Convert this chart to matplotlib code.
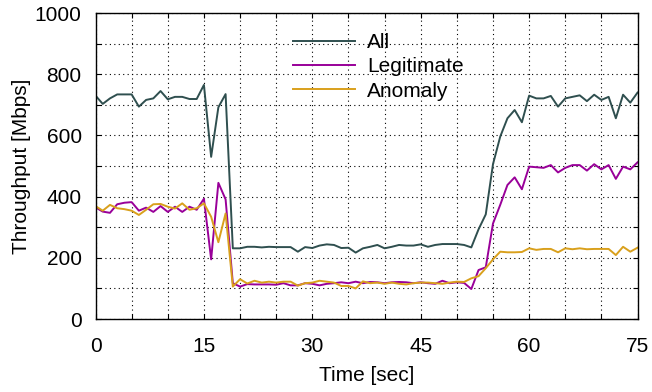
import matplotlib
matplotlib.use("Agg")
import matplotlib.pyplot as plt
from matplotlib.ticker import MultipleLocator

time_sec = list(range(0, 76))
all_mbps = [730, 703, 721, 734, 734, 734, 694, 716, 721, 745, 718, 726, 726, 719, 719,
            765, 530, 692, 735, 231, 231, 236, 236, 234, 236, 235, 235, 235, 220, 235,
            232, 240, 244, 242, 232, 233, 217, 231, 236, 242, 231, 236, 242, 240, 240,
            244, 236, 242, 245, 245, 245, 242, 234, 293, 342, 506, 596, 656, 683, 643,
            730, 721, 721, 729, 694, 721, 726, 731, 712, 733, 716, 726, 656, 733, 707, 740]
legit_mbps = [365, 351, 347, 375, 380, 382, 354, 364, 350, 369, 350, 367, 350, 367, 357,
              393, 195, 445, 391, 117, 106, 114, 113, 113, 113, 112, 117, 110, 110, 117,
              115, 110, 115, 117, 120, 117, 122, 117, 121, 120, 117, 120, 121, 120, 117,
              120, 117, 115, 125, 117, 120, 118, 98, 160, 169, 312, 373, 438, 463, 424,
              498, 496, 494, 503, 479, 494, 503, 503, 485, 506, 489, 503, 458, 498, 489, 512]
anomaly_mbps = [369, 354, 373, 362, 359, 354, 340, 357, 375, 376, 367, 361, 378, 357, 362,
                378, 334, 251, 345, 106, 130, 116, 125, 119, 122, 119, 122, 122, 109, 117,
                119, 125, 122, 119, 108, 108, 100, 123, 117, 119, 115, 119, 115, 113, 117,
                119, 119, 117, 115, 119, 122, 121, 133, 140, 166, 195, 220, 218, 218, 219,
                231, 226, 229, 229, 218, 231, 228, 231, 228, 229, 229, 229, 209, 236, 220, 233]
series_names = ["All", "Legitimate", "Anomaly"]
x_ticks = [0, 15, 30, 45, 60, 75]
y_ticks = [0, 200, 400, 600, 800, 1000]

plt.rcParams['font.family'] = ['Liberation Sans', 'DejaVu Sans']
FS = 15

fig = plt.figure(figsize=(6.52, 3.92), dpi=100)
ax = fig.add_axes([0.1465, 0.1862, 0.8313, 0.7806])

ax.plot(time_sec, all_mbps, color='#2f4f4f', lw=1.4, label=series_names[0])
ax.plot(time_sec, legit_mbps, color='#990099', lw=1.4, label=series_names[1])
ax.plot(time_sec, anomaly_mbps, color='#d9a01c', lw=1.4, label=series_names[2])

ax.set_xlim(0, 75)
ax.set_ylim(0, 1000)
ax.set_xticks(x_ticks)
ax.set_yticks(y_ticks)
ax.xaxis.set_minor_locator(MultipleLocator(5))
ax.yaxis.set_minor_locator(MultipleLocator(100))
ax.grid(True, which='both', color='black', linestyle=(0, (1, 3)), lw=0.8)
ax.tick_params(which='both', direction='in', top=True, right=True, length=3.6, width=0.8)
ax.tick_params(axis='x', which='major', labelsize=FS, pad=13)
ax.tick_params(axis='y', which='major', labelsize=FS, pad=10)
for s in ax.spines.values():
    s.set_linewidth(1.0)

ax.set_xlabel("Time [sec]", fontsize=FS, labelpad=7.5)
ax.set_ylabel("Throughput [Mbps]", fontsize=FS, labelpad=3)

ax.legend(loc='upper left', bbox_to_anchor=(0.365, 0.935), frameon=False,
          borderpad=0, borderaxespad=0, handlelength=2.96, handletextpad=0.59,
          labelspacing=0.26, fontsize=FS)

fig.savefig("out.png", dpi=100)
